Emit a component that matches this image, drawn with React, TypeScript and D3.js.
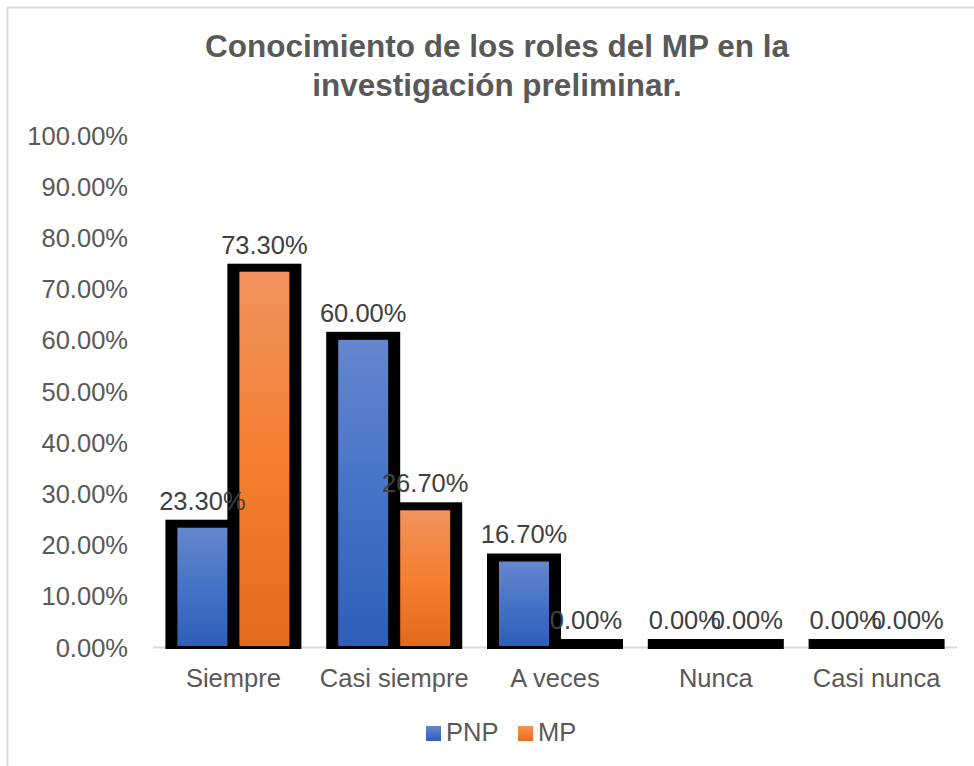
import React from "react";
import * as d3 from "d3";

const categories = ["Siempre", "Casi siempre", "A veces", "Nunca", "Casi nunca"];
const seriesNames = ["PNP", "MP"];
const pnpValues = [0.233, 0.6, 0.167, 0, 0];
const mpValues = [0.733, 0.267, 0, 0, 0];
const yTicks = [0, 0.1, 0.2, 0.3, 0.4, 0.5, 0.6, 0.7, 0.8, 0.9, 1.0];
const titleLines = ["Conocimiento de los roles del MP en la", "investigación preliminar."];

const W = 974;
const H = 766;
const FONT = "'Liberation Sans', Arial, sans-serif";

export default function App() {
  const x0 = d3.scaleBand<string>().domain(categories).range([153, 957]).paddingInner(0).paddingOuter(0);
  const catW = x0.bandwidth();
  const barW = 62;
  const sideGap = (catW - 2 * barW) / 2;
  const x1 = d3.scaleBand<string>().domain(seriesNames).range([sideGap, catW - sideGap]).padding(0);
  const y = d3.scaleLinear().domain([0, 1]).range([647, 135]);
  const fmt = (v: number) => d3.format(".2f")(v * 100) + "%";
  const series = [
    { name: "PNP", values: pnpValues, grad: "gBlue" },
    { name: "MP", values: mpValues, grad: "gOrange" },
  ];

  return (
    <svg width={W} height={H} style={{ position: "fixed", left: 0, top: 0, background: "#fff" }} fontFamily={FONT}>
      <defs>
        <linearGradient id="gBlue" x1="0" y1="0" x2="0" y2="1">
          <stop offset="0" stopColor="#6587cd" />
          <stop offset="0.5" stopColor="#4673c7" />
          <stop offset="1" stopColor="#2e5eb8" />
        </linearGradient>
        <linearGradient id="gOrange" x1="0" y1="0" x2="0" y2="1">
          <stop offset="0" stopColor="#f0925e" />
          <stop offset="0.5" stopColor="#f47f30" />
          <stop offset="1" stopColor="#e36b1b" />
        </linearGradient>
      </defs>
      <rect x={0} y={0} width={W} height={H} fill="#fff" />
      <line x1={7.5} y1={7} x2={7.5} y2={H} stroke="#d9d9d9" strokeWidth={2} />
      <line x1={7} y1={7.5} x2={W} y2={7.5} stroke="#d9d9d9" strokeWidth={2} />

      {titleLines.map((t, i) => (
        <text key={t} x={497} y={57 + i * 39} textAnchor="middle" fontWeight="bold" fontSize={31.5} fill="#595959">
          {t}
        </text>
      ))}

      {yTicks.map((t) => (
        <text key={t} x={128} y={y(t) + 9.5} textAnchor="end" fontSize={25.5} fill="#595959">
          {fmt(t)}
        </text>
      ))}

      <line x1={153} x2={957} y1={y(0) + 0.5} y2={y(0) + 0.5} stroke="#d9d9d9" strokeWidth={2} />

      {/* black outlines */}
      {series.map((s) =>
        categories.map((c, i) => {
          const bx = (x0(c) as number) + (x1(s.name) as number);
          const v = s.values[i];
          return (
            <rect key={s.name + c + "o"} x={bx - 6} y={y(v) - 8} width={barW + 12} height={y(0) - y(v) + 10} fill="#000" />
          );
        })
      )}
      {/* fills */}
      {series.map((s) =>
        categories.map((c, i) => {
          const bx = (x0(c) as number) + (x1(s.name) as number);
          const v = s.values[i];
          if (v <= 0) return null;
          return (
            <rect key={s.name + c + "f"} x={bx + 6} y={y(v)} width={barW - 12} height={y(0) - y(v) - 1} fill={`url(#${s.grad})`} />
          );
        })
      )}
      {/* data labels */}
      {series.map((s) =>
        categories.map((c, i) => {
          const bx = (x0(c) as number) + (x1(s.name) as number);
          const v = s.values[i];
          return (
            <text key={s.name + c + "l"} x={bx + barW / 2} y={y(v) - 18} textAnchor="middle" fontSize={25.5} fill="#404040">
              {fmt(v)}
            </text>
          );
        })
      )}

      {categories.map((c) => (
        <text key={c} x={(x0(c) as number) + catW / 2} y={687} textAnchor="middle" fontSize={25.5} fill="#595959">
          {c}
        </text>
      ))}

      <g>
        <rect x={426} y={726} width={15} height={15} fill="url(#gBlue)" />
        <text x={446} y={741} fontSize={25.5} fill="#595959">PNP</text>
        <rect x={518} y={726} width={15} height={15} fill="url(#gOrange)" />
        <text x={538} y={741} fontSize={25.5} fill="#595959">MP</text>
      </g>
    </svg>
  );
}
